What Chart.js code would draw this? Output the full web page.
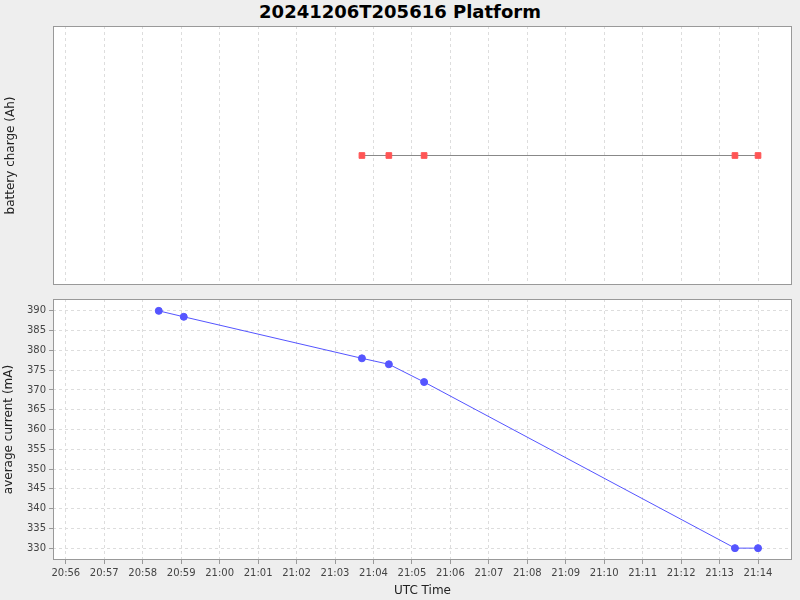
<!DOCTYPE html>
<html>
<head>
<meta charset="utf-8">
<script src="https://cdn.jsdelivr.net/npm/chart.js@4"></script>
<style>
  body { margin: 0; background: #eeeeee; width: 800px; height: 600px; overflow: hidden; font-family: "DejaVu Sans", sans-serif; }
  #title { position: absolute; top: 0; left: 0; width: 800px; text-align: center; font-weight: bold; font-size: 18px; line-height: 24px; color: #000; }
  .box { position: absolute; left: 0; width: 800px; }
</style>
</head>
<body>
<div id="title">20241206T205616 Platform</div>
<div class="box" style="top:20px;height:270px"><canvas id="chargeChart"></canvas></div>
<div class="box" style="top:290px;height:310px"><canvas id="currentChart"></canvas></div>
<script>
// data
const xTickLabels = ['20:56','20:57','20:58','20:59','21:00','21:01','21:02','21:03','21:04','21:05',
                     '21:06','21:07','21:08','21:09','21:10','21:11','21:12','21:13','21:14'];
const chargeTimes = ['21:03:42','21:04:24','21:05:19','21:13:24','21:14:00'];
const chargeValues = [0, 0, 0, 0, 0];
const currentTimes = ['20:58:25','20:59:04','21:03:42','21:04:24','21:05:19','21:13:24','21:14:00'];
const currentValues = [390, 388.5, 378, 376.5, 372, 330, 330];
const currentTicks = [330, 335, 340, 345, 350, 355, 360, 365, 370, 375, 380, 385, 390];

// seconds after 20:56:00
const toSec = s => {
    const p = s.split(':').map(Number);
    return (p[0] * 3600 + p[1] * 60 + (p[2] || 0)) - (20 * 3600 + 56 * 60);
};
const xTickValues = xTickLabels.map(toSec);
const labelFor = v => {
    const i = xTickValues.indexOf(v);
    return i >= 0 ? xTickLabels[i] : '';
};

const plotBackground = {
    id: 'plotBackground',
    beforeDraw(chart) {
        const a = chart.chartArea, c = chart.ctx;
        c.save();
        c.fillStyle = '#ffffff';
        c.fillRect(a.left, a.top, a.width, a.height);
        c.restore();
    },
    afterDatasetsDraw(chart) {
        const a = chart.chartArea, c = chart.ctx;
        c.save();
        c.strokeStyle = '#999999';
        c.lineWidth = 1;
        c.strokeRect(a.left + 0.5, a.top + 0.5, a.width - 1, a.height - 1);
        c.restore();
    }
};

const gridStyle = { color: '#dddddd', tickColor: '#999999', tickLength: 4 };
const dash = { dash: [3, 3] };
const tickFont = { family: 'DejaVu Sans', size: 10 };
const titleFont = { family: 'DejaVu Sans', size: 12 };

function xScale(showLabels, height) {
    return {
        type: 'linear',
        min: toSec('20:55:40'),
        max: toSec('21:14:53'),
        afterBuildTicks: s => { s.ticks = xTickValues.map(v => ({ value: v })); },
        afterFit: s => { s.height = height; },
        grid: Object.assign({ drawTicks: showLabels }, gridStyle),
        border: Object.assign({ display: false }, dash),
        ticks: { display: showLabels, autoSkip: false, maxRotation: 0, font: tickFont, color: '#444', callback: labelFor },
        title: { display: showLabels, text: 'UTC Time', font: titleFont, color: '#222', padding: 2 }
    };
}

new Chart(document.getElementById('chargeChart'), {
    type: 'line',
    data: {
        datasets: [{
            data: chargeTimes.map((t, i) => ({ x: toSec(t), y: chargeValues[i] })),
            borderColor: '#888888',
            borderWidth: 1,
            pointStyle: 'rect',
            pointRadius: 4,
            pointBackgroundColor: '#ff5555',
            pointBorderColor: '#ff5555'
        }]
    },
    options: {
        responsive: true,
        maintainAspectRatio: false,
        animation: false,
        layout: { padding: { top: 6, right: 8, bottom: 2, left: 0 } },
        scales: {
            x: xScale(false, 0),
            y: {
                min: -1, max: 1,
                afterFit: s => { s.width = 53; },
                grid: { display: false },
                border: { display: false },
                ticks: { display: false },
                title: { display: true, text: 'battery charge (Ah)', font: titleFont, color: '#222' }
            }
        },
        plugins: { legend: { display: false }, tooltip: { enabled: false } }
    },
    plugins: [plotBackground]
});

new Chart(document.getElementById('currentChart'), {
    type: 'line',
    data: {
        datasets: [{
            data: currentTimes.map((t, i) => ({ x: toSec(t), y: currentValues[i] })),
            borderColor: '#5555ff',
            borderWidth: 1,
            pointRadius: 3.5,
            pointBackgroundColor: '#5555ff',
            pointBorderColor: '#5555ff'
        }]
    },
    options: {
        responsive: true,
        maintainAspectRatio: false,
        animation: false,
        layout: { padding: { top: 8, right: 8, bottom: 0, left: 0 } },
        scales: {
            x: xScale(true, 40),
            y: {
                min: 327, max: 393,
                afterBuildTicks: s => { s.ticks = currentTicks.map(v => ({ value: v })); },
                afterFit: s => { s.width = 53; },
                grid: gridStyle,
                border: Object.assign({ display: false }, dash),
                ticks: { font: tickFont, color: '#444', padding: 3 },
                title: { display: true, text: 'average current (mA)', font: titleFont, color: '#222', padding: 2 }
            }
        },
        plugins: { legend: { display: false }, tooltip: { enabled: false } }
    },
    plugins: [plotBackground]
});
</script>
</body>
</html>
